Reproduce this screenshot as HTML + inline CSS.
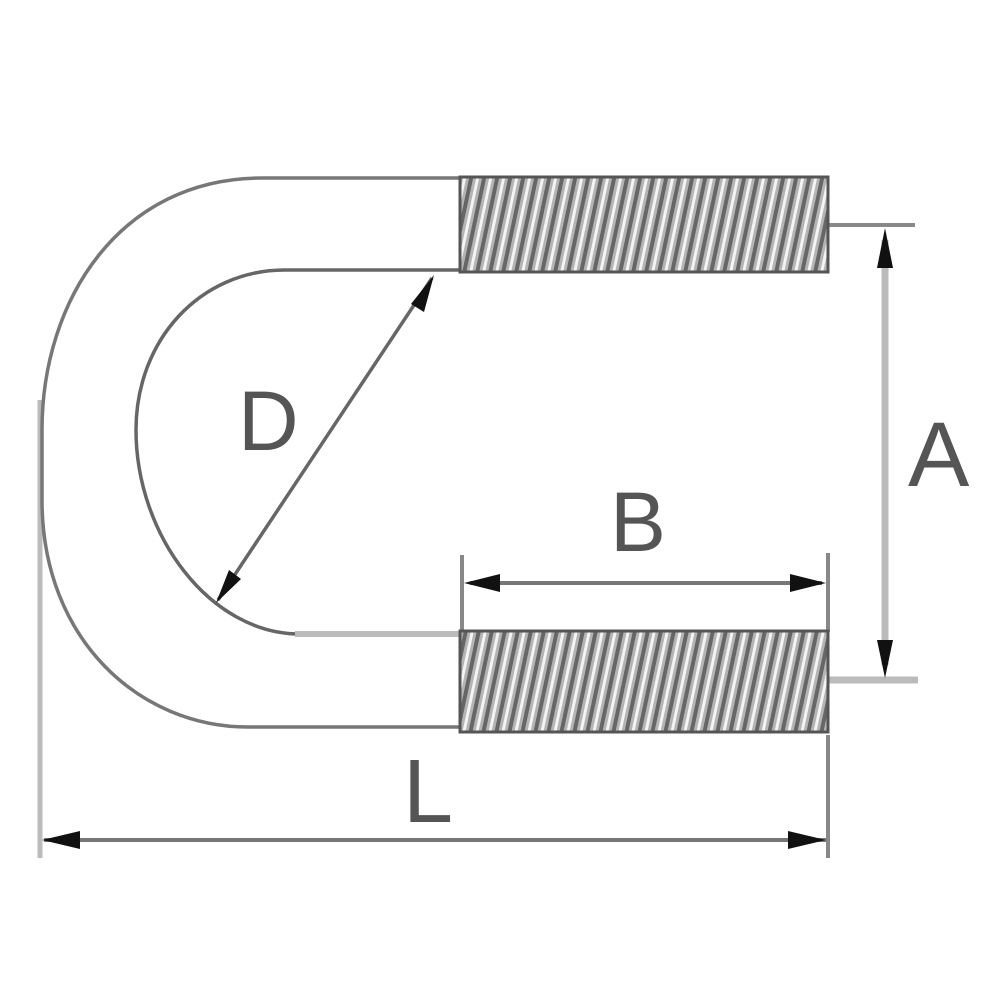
<!DOCTYPE html>
<html><head><meta charset="utf-8"><style>
html,body{margin:0;padding:0;background:#fff;width:1000px;height:1000px;overflow:hidden}
svg text{font-family:"Liberation Sans",sans-serif;fill:#555}
</style></head><body>
<svg width="1000" height="1000" viewBox="0 0 1000 1000">
<defs>
<pattern id="th" width="13" height="13" patternUnits="userSpaceOnUse" patternTransform="skewX(-12)">
<rect width="13" height="13" fill="#b4b4b4"/>
<rect x="0" y="0" width="4" height="13" fill="#666"/>
<rect x="7" y="0" width="3" height="13" fill="#f4f4f4"/>
</pattern>
</defs>
<!-- extension lines -->
<line x1="40" y1="400" x2="40" y2="858" stroke="#bbb" stroke-width="5"/>
<line x1="828" y1="735" x2="828" y2="858" stroke="#888" stroke-width="4"/>
<line x1="828" y1="225" x2="915" y2="225" stroke="#888" stroke-width="4"/>
<line x1="828" y1="680" x2="918" y2="680" stroke="#bbb" stroke-width="7"/>
<line x1="462" y1="555" x2="462" y2="632" stroke="#888" stroke-width="4"/>
<line x1="828" y1="553" x2="828" y2="632" stroke="#888" stroke-width="4"/>
<!-- U outline -->
<path d="M460,178 H262 C120,178 42,300 42,430 L42,500 C42,640 140,727 248,727 H460" fill="none" stroke="#777" stroke-width="3.5"/>
<path d="M460,270 H285 C200,270 136,340 136,430 C136,535 210,634 300,634" fill="none" stroke="#666" stroke-width="3.5"/>
<line x1="295" y1="634" x2="460" y2="634" stroke="#bbb" stroke-width="6"/>
<!-- threads -->
<rect x="460" y="177" width="368" height="95" fill="url(#th)" stroke="#555" stroke-width="3"/>
<rect x="460" y="631" width="368" height="101" fill="url(#th)" stroke="#555" stroke-width="3"/>
<!-- A dimension -->
<line x1="885" y1="240" x2="885" y2="665" stroke="#bbb" stroke-width="7"/>
<polygon points="885,228 877,268 893,268" fill="#111"/>
<polygon points="885,678 877,640 893,640" fill="#111"/>
<!-- B dimension -->
<line x1="470" y1="583" x2="822" y2="583" stroke="#777" stroke-width="4"/>
<polygon points="464,583 500,574 500,592" fill="#111"/>
<polygon points="826,583 790,574 790,592" fill="#111"/>
<!-- L dimension -->
<line x1="44" y1="840" x2="826" y2="840" stroke="#777" stroke-width="4"/>
<polygon points="42,840 80,831 80,849" fill="#111"/>
<polygon points="826,840 788,831 788,849" fill="#111"/>
<!-- D dimension -->
<line x1="432" y1="278" x2="218" y2="600" stroke="#666" stroke-width="3.5"/>
<polygon points="434,275 411,304 424,312" fill="#111"/>
<polygon points="216,603 229,570 241,579" fill="#111"/>
<!-- labels -->
<text x="238" y="450" font-size="84">D</text>
<text x="610" y="551" font-size="84">B</text>
<text x="908" y="486" font-size="92">A</text>
<text x="403" y="822" font-size="90">L</text>
</svg>
</body></html>
